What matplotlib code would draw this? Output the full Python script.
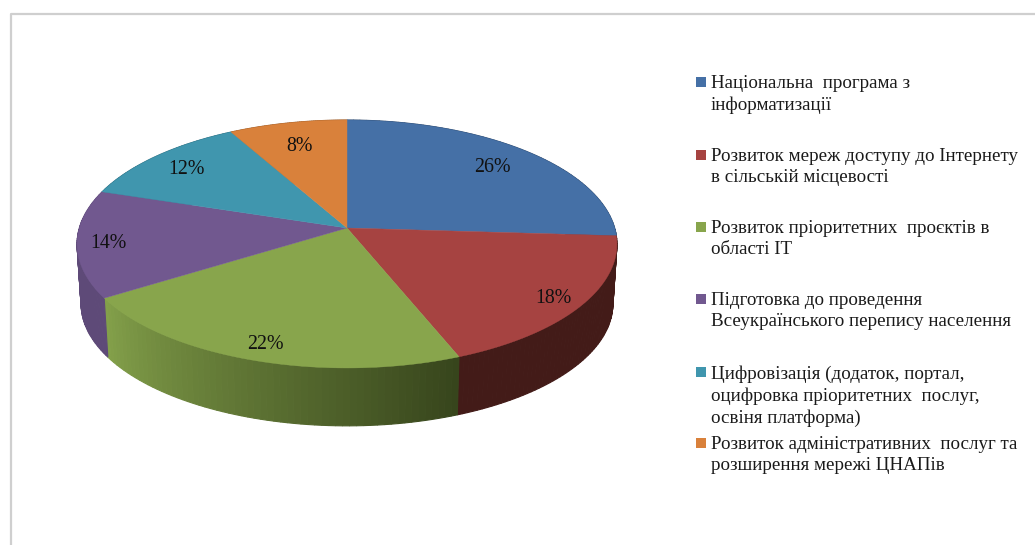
#!/usr/bin/env python3

import matplotlib
matplotlib.use("Agg")
import matplotlib.pyplot as plt
import numpy as np

labels = [
    "Національна  програма з\nінформатизації",
    "Розвиток мереж доступу до Інтернету\nв сільській місцевості",
    "Розвиток пріоритетних  проєктів в\nобласті ІТ",
    "Підготовка до проведення\nВсеукраїнського перепису населення",
    "Цифровізація (додаток, портал,\nоцифровка пріоритетних  послуг,\nосвіня платформа)",
    "Розвиток адміністративних  послуг та\nрозширення мережі ЦНАПів",
]
values = [26, 18, 22, 14, 12, 8]

colors = ["#4570a6", "#a64341", "#88a54c", "#71588f", "#4096ae", "#d9813b"]
side_left = ["#2c4668", "#431b18", "#83a04a", "#5e4a78", "#2c6a7c", "#9a5c2a"]
side_right = ["#2c4668", "#431b18", "#37451c", "#5e4a78", "#2c6a7c", "#9a5c2a"]
legend_y = [82, 155, 227, 299, 372, 443]
label_r = [0.8, 0.89, 0.88, 0.885, 0.83, 0.78]

plt.rcParams['font.family'] = ['Liberation Serif', 'DejaVu Serif']

fig = plt.figure(figsize=(10.35, 5.45), dpi=100)
ax = fig.add_axes([0, 0, 1, 1])
ax.set_xlim(0, 1035)
ax.set_ylim(545, 0)
ax.axis("off")

# disc seen in perspective, angles clockwise from the top
CX, CY = 347, 228
TILT = 0.129
RX, RY = 267.7, 121.9
DEPTH, SHRINK = 60, 0.985


def project(r, ang, scale=1.0, dy=0.0):
    x = r * np.sin(ang)
    y = r * np.cos(ang)
    w = 1 + TILT * y
    return CX + scale * RX * x / w, CY + dy - scale * RY * y / w


edges = np.radians(np.concatenate([[0], np.cumsum(values)]) * 360 / sum(values))


def blend(a, b, t):
    a = np.array(matplotlib.colors.to_rgb(a))
    b = np.array(matplotlib.colors.to_rgb(b))
    return a + (b - a) * t


# side wall, in strips so the rim stays filled where it folds round the edge
for i in range(len(values)):
    steps = 60
    angs = np.linspace(edges[i], edges[i + 1], steps + 1)
    for j in range(steps):
        a = angs[j:j + 2]
        x1, y1 = project(1, a)
        x2, y2 = project(1, a, SHRINK, DEPTH)
        # the rim runs right to left along the front, so the gradient flips
        t = 1 - j / (steps - 1)
        c = blend(side_left[i], side_right[i], t)
        ax.fill(np.r_[x1, x2[::-1]], np.r_[y1, y2[::-1]], color=c, lw=0.8, zorder=1)

# top of the pie
for i in range(len(values)):
    angs = np.linspace(edges[i], edges[i + 1], 120)
    x, y = project(1, angs)
    ax.fill(np.r_[CX, x], np.r_[CY, y], color=colors[i], lw=0.3, zorder=2)

    mid = (edges[i] + edges[i + 1]) / 2
    lx, ly = project(label_r[i], mid)
    ax.text(lx, ly + 2, "%d%%" % values[i], ha="center", va="center",
            fontsize=14.3, color="#111111", zorder=3)

# legend
for i in range(len(labels)):
    ax.scatter([701], [legend_y[i]], marker="s", s=62, color=colors[i], lw=0, zorder=3)
    ax.text(711, legend_y[i] - 7, labels[i], ha="left", va="top", fontsize=13.7,
            color="#1a1a1a", linespacing=1.33, zorder=3)

# frame left over from the cropped screenshot
ax.plot([10.5, 10.5, 1035], [545, 14, 14], color="#cfcfcf", lw=1.6, zorder=0)

fig.savefig("out.png", dpi=100)
